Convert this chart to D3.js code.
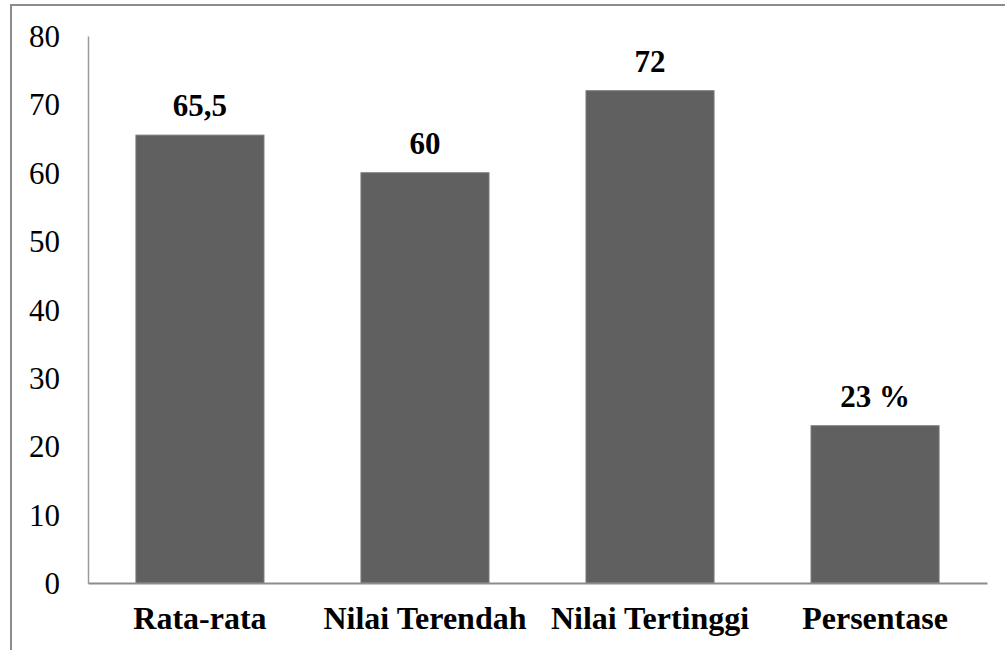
<!DOCTYPE html>
<html>
<head>
<meta charset="utf-8">
<script src="https://cdn.jsdelivr.net/npm/d3@7"></script>
<style>
  html, body { margin: 0; padding: 0; background: #fff; }
  svg { display: block; }
</style>
</head>
<body>
<svg id="chart" width="1005" height="650"></svg>
<script>
const categories = ["Rata-rata", "Nilai Terendah", "Nilai Tertinggi", "Persentase"];
const values = [65.5, 60, 72, 23];
const valueLabels = ["65,5", "60", "72", "23 %"];
const yTicks = [0, 10, 20, 30, 40, 50, 60, 70, 80];

const svg = d3.select("#chart");
const serif = "Liberation Serif";

// outer frame
svg.append("rect")
  .attr("x", 11).attr("y", 5)
  .attr("width", 1100).attr("height", 700)
  .attr("fill", "none")
  .attr("stroke", "#8c8c8c")
  .attr("stroke-width", 2);

const x = d3.scaleBand()
  .domain(categories)
  .range([88, 987])
  .paddingInner(0.431)
  .paddingOuter(0.213);

const y = d3.scaleLinear().domain([0, 80]).range([583, 36]);

// bars
svg.append("g").selectAll("rect")
  .data(values)
  .join("rect")
  .attr("x", (d, i) => x(categories[i]))
  .attr("y", d => y(d))
  .attr("width", x.bandwidth())
  .attr("height", d => y(0) - y(d))
  .attr("fill", "#606060")
  .attr("stroke", "#7a7a7a")
  .attr("stroke-width", 1);

// y axis
const yAxis = svg.append("g")
  .attr("transform", "translate(88,0)")
  .call(d3.axisLeft(y).tickValues(yTicks).tickSize(0).tickPadding(28).tickFormat(d3.format("d")));
yAxis.select(".domain").attr("stroke", "#9a9a9a").attr("stroke-width", 1.5);
yAxis.selectAll("text")
  .style("font-family", serif)
  .style("font-size", "31px")
  .attr("fill", "#000")
  .attr("dy", "0.34em");

// x axis
const xAxis = svg.append("g")
  .attr("transform", "translate(0,583)")
  .call(d3.axisBottom(x).tickSize(0).tickPadding(0));
xAxis.select(".domain").attr("stroke", "#8c8c8c").attr("stroke-width", 2);
xAxis.selectAll("text")
  .style("font-family", serif)
  .style("font-size", "32px")
  .style("font-weight", "bold")
  .attr("fill", "#000")
  .attr("dy", 0)
  .attr("y", 46);

// value labels
svg.append("g").selectAll("text")
  .data(values)
  .join("text")
  .attr("x", (d, i) => x(categories[i]) + x.bandwidth() / 2)
  .attr("y", d => y(d) - 19)
  .attr("text-anchor", "middle")
  .style("font-family", serif)
  .style("font-size", "31px")
  .style("font-weight", "bold")
  .attr("fill", "#000")
  .text((d, i) => valueLabels[i]);
</script>
</body>
</html>
